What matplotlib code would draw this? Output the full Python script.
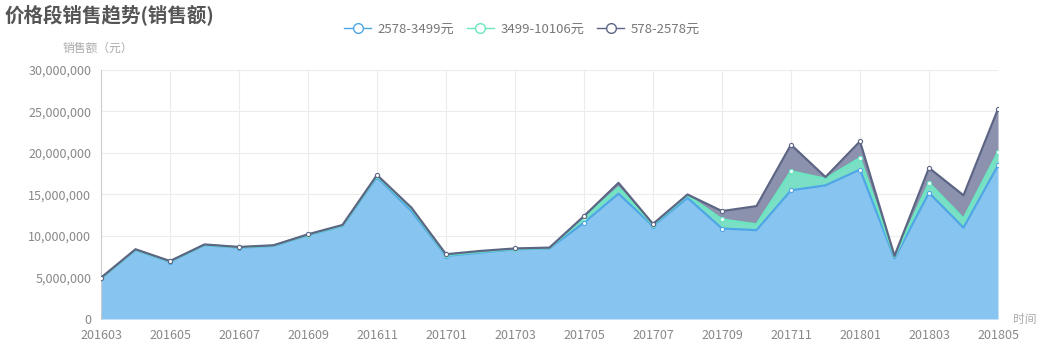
import numpy as np
import matplotlib.pyplot as plt
from matplotlib.ticker import FuncFormatter, MultipleLocator
from matplotlib.lines import Line2D

plt.rcParams['font.family'] = ['Noto Sans CJK SC', 'DejaVu Sans']

# =====================================================
# DATA (sales, yuan)
# =====================================================

months = [
    "201603", "201604", "201605", "201606", "201607", "201608", "201609",
    "201610", "201611", "201612", "201701", "201702", "201703", "201704",
    "201705", "201706", "201707", "201708", "201709", "201710", "201711",
    "201712", "201801", "201802", "201803", "201804", "201805",
]

# stacked bottom -> top
s_2578_3499 = [
    4.90e6, 8.30e6, 6.90e6, 8.90e6, 8.60e6, 8.80e6, 10.10e6,
    11.20e6, 17.10e6, 13.00e6, 7.60e6, 8.00e6, 8.40e6, 8.50e6,
    11.60e6, 15.10e6, 11.20e6, 14.60e6, 10.90e6, 10.70e6, 15.50e6,
    16.10e6, 18.00e6, 7.30e6, 15.20e6, 11.00e6, 18.50e6,
]
s_3499_10106 = [
    0.02e6, 0.03e6, 0.03e6, 0.03e6, 0.03e6, 0.03e6, 0.05e6,
    0.05e6, 0.15e6, 0.30e6, 0.10e6, 0.10e6, 0.05e6, 0.05e6,
    0.60e6, 0.75e6, 0.15e6, 0.30e6, 1.10e6, 0.70e6, 2.30e6,
    0.80e6, 1.40e6, 0.20e6, 1.20e6, 1.10e6, 1.60e6,
]
s_578_2578 = [
    0.05e6, 0.07e6, 0.05e6, 0.05e6, 0.05e6, 0.05e6, 0.05e6,
    0.08e6, 0.10e6, 0.10e6, 0.10e6, 0.10e6, 0.05e6, 0.05e6,
    0.20e6, 0.55e6, 0.10e6, 0.10e6, 1.00e6, 2.20e6, 3.20e6,
    0.20e6, 2.00e6, 0.10e6, 1.80e6, 2.80e6, 5.20e6,
]

labels = ["2578-3499元", "3499-10106元", "578-2578元"]
line_colors = ["#4fa6e6", "#6be6c1", "#5d6585"]
fill_colors = ["#88c4f0", "#7adfc4", "#8c91ad"]

# =====================================================
# PLOT
# =====================================================

fig = plt.figure(figsize=(10.4, 3.5), dpi=100)
ax = fig.add_axes([101 / 1040, 1 - 319 / 350, 897 / 1040, 249 / 350])

x = np.arange(len(months))
series = [np.array(s_2578_3499), np.array(s_3499_10106), np.array(s_578_2578)]

base = np.zeros(len(months))
for vals, lc, fc, lab in zip(series, line_colors, fill_colors, labels):
    top = base + vals
    ax.fill_between(x, base, top, color=fc, lw=0, zorder=2)
    ax.plot(x, top, color=lc, lw=1.6, zorder=3,
            marker="o", markersize=3.0, markerfacecolor="white",
            markeredgecolor=lc, markeredgewidth=0.8, markevery=2)
    base = top

ax.set_xlim(0, len(months) - 1)
ax.set_ylim(0, 30e6)
ax.yaxis.set_major_locator(MultipleLocator(5e6))
ax.yaxis.set_major_formatter(FuncFormatter(lambda v, p: f"{int(v):,}"))
ax.set_xticks(x[::2])
ax.set_xticklabels(months[::2])

ax.grid(True, color="#ececec", lw=0.8, zorder=0)
ax.set_axisbelow(True)
for side in ["top", "right", "bottom"]:
    ax.spines[side].set_visible(False)
ax.spines["left"].set_color("#cccccc")
ax.tick_params(length=0, colors="#888888", labelsize=9)
ax.tick_params(axis="y", pad=7)
ax.tick_params(axis="x", pad=7)

# axis names
fig.text(98 / 1040, 1 - 48 / 350, "销售额（元）", ha="center", va="center",
         fontsize=8.5, color="#aaaaaa")
fig.text(1025 / 1040, 1 - 320 / 350, "时间", ha="center", va="center",
         fontsize=8.5, color="#aaaaaa")

# title
fig.text(5 / 1040, 1 - 15 / 350, "价格段销售趋势(销售额)", ha="left", va="center",
         fontsize=14, fontweight="bold", color="#555555")

# legend
handles = [Line2D([0], [0], color=lc, lw=1, marker="o", markersize=7,
                  markerfacecolor="white", markeredgecolor=lc)
           for lc in line_colors]
leg = fig.legend(handles, labels, loc="center", bbox_to_anchor=(522 / 1040, 1 - 29 / 350),
                 ncol=3, frameon=False, fontsize=9.5, handlelength=2.0,
                 columnspacing=1.0, handletextpad=0.5)
for t in leg.get_texts():
    t.set_color("#777777")

plt.savefig("out.png", dpi=100)
